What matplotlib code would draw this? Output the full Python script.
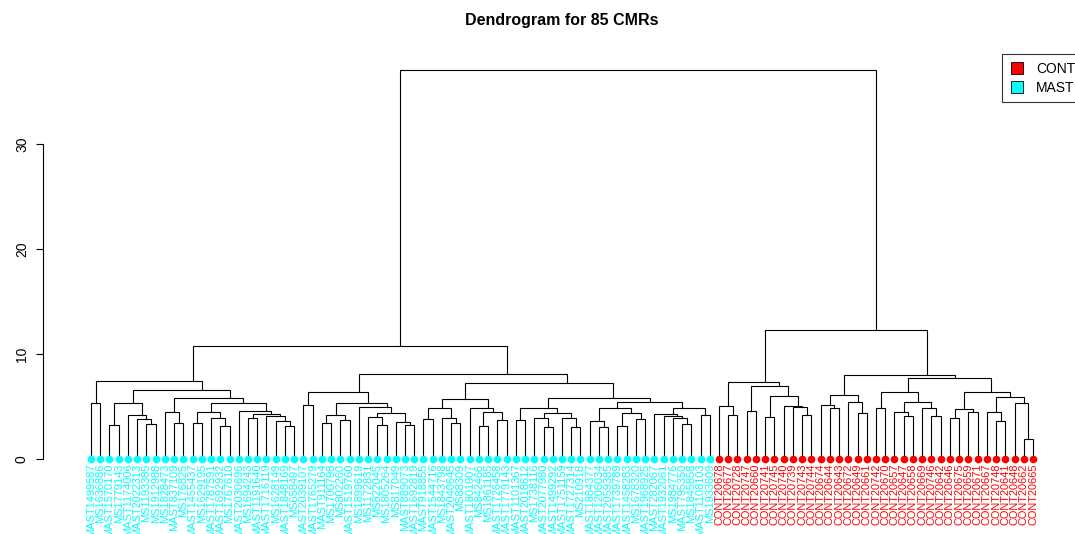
import matplotlib
matplotlib.use("Agg")
import matplotlib.pyplot as plt
from matplotlib.lines import Line2D

title = "Dendrogram for 85 CMRs"

mast_labels = [
    "MAST1499587", "MS1636886", "MAST1570170", "MS1779143", "MAST1174006", "MAST2022313",
    "MS1193385", "MS1912988", "MS1828473", "MAST837109", "MS176825", "MAST1455437",
    "MS1629195", "MAST1787591", "MAST1692932", "MS1767610", "MAST2030696", "MS1694243",
    "MAST1191640", "MAST1716119", "MS1628149", "MAST1848169", "MS658497", "MAST2039107",
    "MAST1765279", "MAST911164", "MS1700798", "MS802260", "MAST1519760", "MS1899619",
    "MS1172831", "MS822045", "MS1805264", "MS817049", "MAST889073", "MAST1692819",
    "MAST918855", "MAST1544716", "MS1843798", "MAST2040645", "MS88309", "MAST1801907",
    "MS842466", "MS1861185", "MAST1726458", "MAST1779143", "MAST1101367", "MAST2018612",
    "MS1738116", "MAST2077980", "MAST1499292", "MAST1751159", "MAST1727314", "MS210918",
    "MAST1884377", "MAST1206034", "MAST2059385", "MAST1739789", "MAST1458283", "MS1678320",
    "MAST1968925", "MAST282067", "MAST1932061", "MS1984776", "MAST795350", "MS1845858",
    "MAST1108103", "MS1933609",
]
cont_labels = [
    "CONT20678", "CONT20677", "CONT20728", "CONT20747", "CONT20660", "CONT20741",
    "CONT20745", "CONT20740", "CONT20739", "CONT20743", "CONT20744", "CONT20674",
    "CONT20644", "CONT20643", "CONT20672", "CONT20649", "CONT20661", "CONT20742",
    "CONT20670", "CONT20657", "CONT20647", "CONT20658", "CONT20669", "CONT20746",
    "CONT20642", "CONT20646", "CONT20675", "CONT20659", "CONT20671", "CONT20667",
    "CONT20748", "CONT20641", "CONT20648", "CONT20662", "CONT20665",
]
leaf_labels = mast_labels + cont_labels
leaf_groups = ["MAST"] * len(mast_labels) + ["CONT"] * len(cont_labels)
group_colors = {"CONT": "#FF0000", "MAST": "#00FFFF"}
legend_groups = ["CONT", "MAST"]

# merge tree: [height, left, right]; integers are leaf indices (left-to-right order)
mast_a = [7.46, [5.33, 0, 1],
          [6.57, [5.39, [3.24, 2, 3], [4.22, 4, [3.81, 5, [3.33, 6, 7]]]],
           [5.8, [4.47, 8, [3.46, 9, 10]],
            [5.33, [4.53, [3.46, 11, 12], [3.96, 13, [3.14, 14, 15]]],
             [4.6, 16, [4.33, [3.9, 17, 18], [4.1, 19, [3.65, 20, [3.2, 21, 22]]]]]]]]]
mast_b1 = [6.38, [5.17, 23, 24],
           [5.39, [4.22, [3.43, 25, 26], [3.74, 27, 28]],
            [5.0, 29, [4.38, [4.0, 30, [3.27, 31, 32]], [3.6, 33, [3.3, 34, 35]]]]]]
mast_b3 = [5.8, [4.86, [3.7, 46, 47], [4.38, [3.9, 48, [3.06, 49, 50]], [3.9, 51, [3.06, 52, 53]]]],
           [5.43, [4.85, [3.65, 54, [3.06, 55, 56]], [4.44, [3.16, 57, 58], [3.84, 59, 60]]],
            [4.85, [4.3, 61, [4.15, 62, [3.9, 63, [3.4, 64, 65]]]], [4.2, 66, 67]]]]
mast_b2 = [7.3, [5.7, [4.85, [3.8, 36, 37], [3.96, 38, [3.48, 39, 40]]],
                 [4.9, 41, [4.5, [3.2, 42, 43], [3.7, 44, 45]]]],
           mast_b3]
mast_tree = [10.76, mast_a, [8.1, mast_b1, mast_b2]]

cont_left = [7.33, [5.08, 68, [4.22, 69, 70]],
             [6.98, [4.63, 71, 72], [6.06, [4.0, 73, 74], [5.1, 75, [5.0, 76, [4.22, 77, 78]]]]]]
cont_mid = [6.12, [5.17, 79, [4.92, 80, 81]], [5.49, 82, [4.44, 83, 84]]]
cont_right = [7.71,
              [6.38, [4.92, 85, 86], [5.49, [4.53, 87, [4.15, 88, 89]], [4.86, 90, [4.15, 91, 92]]]],
              [6.38, [4.76, [3.96, 93, 94], [4.47, 95, 96]],
               [5.9, [4.47, 97, [3.68, 98, 99]], [5.33, 100, [1.93, 101, 102]]]]]
cont_tree = [12.29, cont_left, [8.03, cont_mid, cont_right]]

tree = [37.08, mast_tree, cont_tree]

fig = plt.figure(figsize=(10.75, 5.34), dpi=100)
ax = fig.add_axes([53.3 / 1075, 1 - 474.9 / 534, (1070.7 - 53.3) / 1075, (474.9 - 54.4) / 534])


def draw(node):
    """Returns (x, height, number of leaves); node x is the mean of its leaves."""
    if isinstance(node, int):
        return node + 1, 0.0, 1
    h, left, right = node
    xl, hl, nl = draw(left)
    xr, hr, nr = draw(right)
    ax.plot([xl, xl, xr, xr], [hl, h, h, hr], color="black", lw=0.8, solid_joinstyle="miter")
    return (xl * nl + xr * nr) / (nl + nr), h, nl + nr


draw(tree)
n = len(leaf_labels)
for i in range(n):
    c = group_colors[leaf_groups[i]]
    ax.plot(i + 1, 0, "o", color=c, ms=4.5, mec=c, zorder=3, clip_on=False)
    ax.text(i + 1, -0.4, leaf_labels[i], rotation=90, ha="center", va="top",
            color=c, fontsize=7.9, family="Liberation Sans", clip_on=False)

pad = 0.04 * (n - 1)
ax.set_xlim(1 - pad, n + pad)
top = tree[0]
ax.set_ylim(-0.04 * top, top * 1.04)
ax.set_xticks([])
for s in ["top", "right", "bottom"]:
    ax.spines[s].set_visible(False)
ax.spines["left"].set_position(("outward", 7.5))
ax.spines["left"].set_bounds(0, 30)
ax.spines["left"].set_linewidth(0.8)
ax.set_yticks([0, 10, 20, 30])
ax.tick_params(axis="y", length=5, width=0.8, pad=5, labelsize=10)
for lab in ax.get_yticklabels():
    lab.set_rotation(90)
    lab.set_va("center")
    lab.set_family("Liberation Sans")

fig.text(562 / 1075, 1 - 21 / 534, title, ha="center", va="center", fontsize=11.5,
         fontweight="bold", family="Liberation Sans")

handles = [Line2D([], [], marker="s", linestyle="none", markersize=8, markerfacecolor=group_colors[g],
                  markeredgecolor="black", markeredgewidth=0.6) for g in legend_groups]
leg = fig.legend(handles, legend_groups, loc="upper left", bbox_to_anchor=(1002 / 1075, 1 - 54 / 534),
                 frameon=True, fancybox=False, edgecolor="black", fontsize=10, handlelength=1.0,
                 handletextpad=0.9, borderpad=0.55, labelspacing=0.35, borderaxespad=0)
leg.get_frame().set_linewidth(0.8)
for t in leg.get_texts():
    t.set_family("Liberation Sans")

fig.savefig("out.png", dpi=100)
